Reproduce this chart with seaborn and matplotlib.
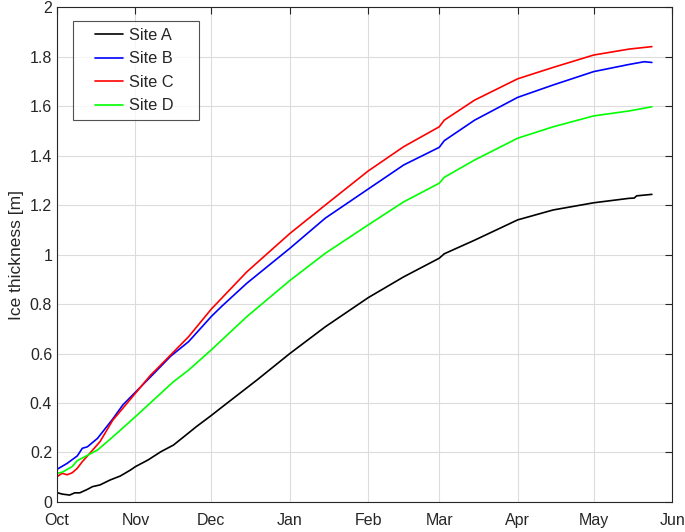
import numpy as np
import pandas as pd
import seaborn as sns
import matplotlib
matplotlib.use('Agg')
from matplotlib import pyplot as plt
import matplotlib.dates as mdates
from matplotlib.lines import Line2D
from matplotlib.legend_handler import HandlerLine2D

sns.set_style('white')
plt.rcParams['font.family'] = ['Liberation Sans', 'DejaVu Sans']

dates_a = ['10-01', '10-03', '10-06', '10-08', '10-10', '10-13', '10-15', '10-18', '10-22', '10-26',
           '10-30', '11-01', '11-06', '11-11', '11-16', '11-21', '11-25', '12-01', '12-06', '12-19',
           '01-01', '01-15', '02-01', '02-15', '03-01', '03-03', '03-15', '04-01', '04-15', '05-01',
           '05-15', '05-17', '05-18', '05-24']
site_a = [0.038, 0.032, 0.028, 0.037, 0.037, 0.051, 0.062, 0.069, 0.089, 0.105,
          0.129, 0.143, 0.170, 0.203, 0.230, 0.271, 0.304, 0.350, 0.390, 0.493,
          0.600, 0.708, 0.826, 0.910, 0.985, 1.003, 1.058, 1.140, 1.180, 1.209,
          1.227, 1.228, 1.237, 1.243]

dates_b = ['10-01', '10-05', '10-09', '10-11', '10-13', '10-17', '10-23', '10-27', '11-07', '11-15',
           '11-22', '12-01', '12-05', '12-15', '01-01', '01-15', '02-01', '02-15', '03-01', '03-03',
           '03-15', '04-01', '04-15', '05-01', '05-15', '05-21', '05-24']
site_b = [0.132, 0.156, 0.186, 0.217, 0.223, 0.257, 0.335, 0.392, 0.506, 0.590,
          0.648, 0.750, 0.790, 0.884, 1.025, 1.147, 1.265, 1.362, 1.433, 1.460,
          1.543, 1.635, 1.685, 1.739, 1.768, 1.779, 1.776]

dates_c = ['10-01', '10-03', '10-05', '10-07', '10-09', '10-11', '10-14', '10-18', '10-23', '10-29',
           '11-07', '11-09', '11-22', '12-01', '12-15', '01-01', '01-15', '02-01', '02-15', '03-01',
           '03-03', '03-15', '04-01', '04-15', '05-01', '05-15', '05-24']
site_c = [0.102, 0.116, 0.110, 0.118, 0.136, 0.163, 0.197, 0.244, 0.330, 0.403,
          0.513, 0.533, 0.668, 0.780, 0.930, 1.085, 1.200, 1.338, 1.436, 1.516,
          1.543, 1.624, 1.710, 1.756, 1.806, 1.830, 1.840]

dates_d = ['10-01', '10-03', '10-07', '10-09', '10-12', '10-17', '10-21', '10-26', '11-01', '11-16',
           '11-22', '12-01', '12-15', '01-01', '01-15', '02-01', '02-15', '03-01', '03-03', '03-15',
           '04-01', '04-15', '05-01', '05-15', '05-24']
site_d = [0.116, 0.120, 0.143, 0.167, 0.183, 0.210, 0.245, 0.290, 0.345, 0.486,
          0.533, 0.615, 0.749, 0.895, 1.005, 1.120, 1.213, 1.288, 1.312, 1.382,
          1.470, 1.516, 1.560, 1.580, 1.597]

labels = ['Site A', 'Site B', 'Site C', 'Site D']
colors = ['black', '#0000ff', '#ff0000', '#00ff00']


def to_dates(md):
    return pd.to_datetime([('2018-' if int(d[:2]) >= 10 else '2019-') + d for d in md])


frames = []
for lab, d, v in zip(labels, [dates_a, dates_b, dates_c, dates_d], [site_a, site_b, site_c, site_d]):
    frames.append(pd.DataFrame({'date': to_dates(d), 'thick': v, 'site': lab}))
df = pd.concat(frames, ignore_index=True)

fig = plt.figure(figsize=(6.85, 5.32), dpi=100)
ax = fig.add_axes([0.0832, 0.0564, 0.898, 0.9304])
sns.lineplot(data=df, x='date', y='thick', hue='site', palette=dict(zip(labels, colors)),
             linewidth=1.2, ax=ax)

ax.set_xlim(pd.Timestamp('2018-10-01'), pd.Timestamp('2019-06-01'))
ax.set_ylim(0, 2)
ax.xaxis.set_major_locator(mdates.MonthLocator())
ax.xaxis.set_major_formatter(mdates.DateFormatter('%b'))
yt = np.round(np.arange(0, 2.01, 0.2), 1)
ax.set_yticks(yt)
ax.set_yticklabels(['%g' % t for t in yt])
ax.grid(True, color='#dcdcdc', linewidth=0.8)
ax.tick_params(direction='in', length=5, width=0.8, labelsize=11.5, colors='#262626',
               top=True, right=True)
ax.tick_params(axis='x', pad=8)
for s in ax.spines.values():
    s.set_color('#262626')
    s.set_linewidth(0.8)
ax.set_xlabel('')
ax.set_ylabel('Ice thickness [m]', fontsize=12.5, color='#262626')

# MATLAB-like legend: short line with space on its left, wide box
handles, _ = ax.get_legend_handles_labels()
leg = ax.legend(handles, [l + '    ' for l in labels], loc='upper left',
                bbox_to_anchor=(0.026, 0.972), borderaxespad=0,
                fontsize=11.8, frameon=True, fancybox=False, edgecolor='#262626',
                handlelength=3.6, handletextpad=-0.6, borderpad=0.42, labelspacing=0.52,
                handler_map={Line2D: HandlerLine2D(marker_pad=0.95, numpoints=2)})
leg.get_frame().set_linewidth(0.8)

fig.savefig('out.png', dpi=100)
